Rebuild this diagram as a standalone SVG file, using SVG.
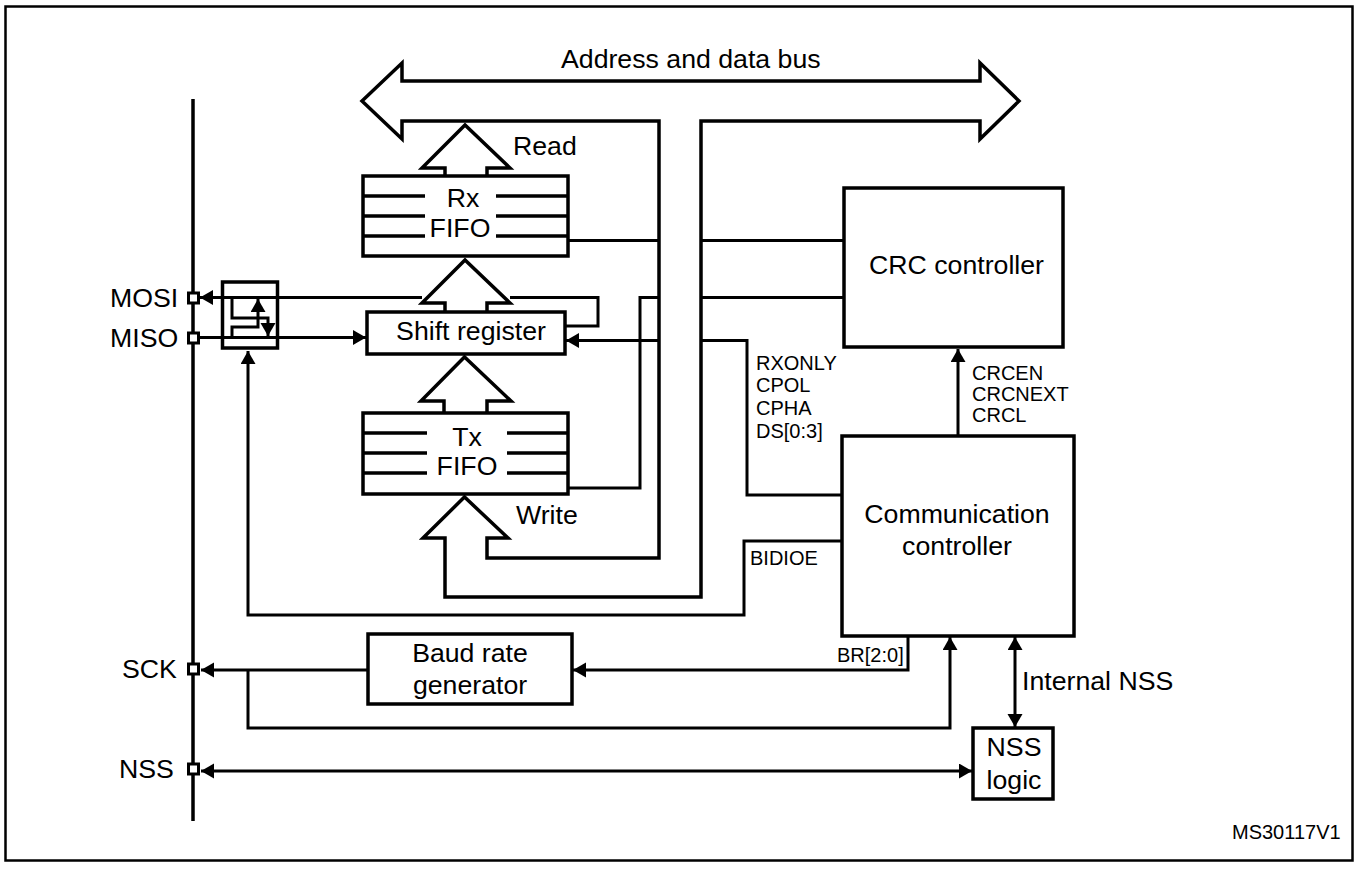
<svg xmlns="http://www.w3.org/2000/svg" width="1360" height="870" viewBox="0 0 1360 870">
<defs>
<marker id="ah" markerUnits="userSpaceOnUse" markerWidth="14" markerHeight="16" refX="13" refY="7.5" orient="auto-start-reverse"><path d="M0 0L13 7.5L0 15Z" fill="#000"/></marker>
</defs>
<style>
text{font-family:"Liberation Sans",Arial,sans-serif;fill:#000}
.l{font-size:26.7px}
.m{font-size:26.7px;text-anchor:middle}
.s{font-size:20px}
.n{fill:#fff;stroke:#000;stroke-width:3.5}
.p{fill:#fff;stroke:#000;stroke-width:3}
.c{fill:none;stroke:#000;stroke-width:3}
.r{fill:none;stroke:#000;stroke-width:3.5}
.a{marker-end:url(#ah)}
.b{marker-start:url(#ah);marker-end:url(#ah)}
.o{fill:#fff;stroke:#000;stroke-width:3.5;stroke-linejoin:miter}
</style>
<rect width="1360" height="870" fill="#fff"/>
<rect id="frame" x="5.500" y="6.500" width="1347" height="854" fill="none" stroke="#000" stroke-width="2.500"/>
<g id="connectors">
<path class="r" d="M193 99V821"/>
<path class="c" d="M568 240.500H658M702 240.500H843M702 297.500H843"/>
<path class="c" d="M568 488H640V297.500H658"/>
<path class="c a" d="M658 340.500H566"/>
<path class="c" d="M702 340.500H747V495H842"/>
<path class="c a" d="M842 541H744V615H248V351"/>
<path class="c a" d="M958 436V349"/>
<path class="c a" d="M908 636V670H573"/>
<path class="c a" d="M368 670H201"/>
<path class="c a" d="M248 670V728H950V637"/>
<path class="c b" d="M1015 637V727"/>
<path class="c b" d="M201 771H972"/>
<path class="c a" d="M422 297.500H200"/>
<path class="c" d="M510 297.500H598V326H565"/>
<path class="c a" d="M200 337.500H366"/>
<path class="c a" d="M232 298V318H268V336"/>
<path class="c a" d="M232 337V327H258V299"/>
</g>
<g id="bus">
<path class="o" d="M362 101L402 63V81H980V63L1019 101L980 139V121H701V597H445V538H423L464.500 497L508 538H487V558H659V121H402V139Z"/>
<text class="l" x="561" y="68">Address and data bus</text>
</g>
<g id="read-arrow">
<path class="o" d="M445 176V168H422L465 125L510 168H487V176"/>
<text class="l" x="513" y="155">Read</text>
</g>
<g id="rx-fifo">
<rect class="n" x="363" y="176" width="205" height="80"/>
<path class="r" d="M363 196H425M363 216H425M363 236H425M496 196H568M496 216H568M496 236H568"/>
<text class="m" x="463" y="207">Rx</text>
<text class="m" x="460" y="237">FIFO</text>
</g>
<g id="shift-arrow">
<path class="o" d="M445 312V303H422L465 260L510 303H487V312"/>
</g>
<g id="shift-register">
<rect class="n" x="367" y="312" width="198" height="42"/>
<text class="m" x="471" y="340">Shift register</text>
</g>
<g id="tx-arrow">
<path class="o" d="M444 413V401H421L464.500 357L511 401H487V413"/>
</g>
<g id="tx-fifo">
<rect class="n" x="363" y="413" width="205" height="81"/>
<path class="r" d="M363 433H427M363 453H427M363 473H427M507 433H568M507 453H568M507 473H568"/>
<text class="m" x="467" y="446">Tx</text>
<text class="m" x="467" y="475">FIFO</text>
<text class="l" x="516" y="524">Write</text>
</g>
<g id="crc-controller">
<rect class="n" x="844" y="188" width="219" height="159"/>
<text class="m" x="956.500" y="274">CRC controller</text>
</g>
<g id="communication-controller">
<rect class="n" x="842" y="436" width="232" height="200"/>
<text class="m" x="957" y="523">Communication</text>
<text class="m" x="957" y="555">controller</text>
</g>
<g id="baud-rate-generator">
<rect class="n" x="368" y="634" width="204" height="70"/>
<text class="m" x="470" y="662">Baud rate</text>
<text class="m" x="470" y="694">generator</text>
</g>
<g id="nss-logic">
<rect class="n" x="973" y="728" width="80" height="71"/>
<text class="m" x="1014" y="756">NSS</text>
<text class="m" x="1014" y="789">logic</text>
</g>
<g id="switch">
<rect class="r" x="222.500" y="282" width="55" height="66"/>
</g>
<g id="pin-mosi"><rect class="p" x="188.500" y="293" width="10" height="10"/><text class="l" x="110" y="307">MOSI</text></g>
<g id="pin-miso"><rect class="p" x="188.500" y="333" width="10" height="10"/><text class="l" x="110" y="347">MISO</text></g>
<g id="pin-sck"><rect class="p" x="188.500" y="664" width="10" height="10"/><text class="l" x="122" y="678">SCK</text></g>
<g id="pin-nss"><rect class="p" x="188.500" y="764" width="10" height="10"/><text class="l" x="119" y="778">NSS</text></g>
<g id="labels">
<text class="s" x="756" y="370">RXONLY</text>
<text class="s" x="756" y="392">CPOL</text>
<text class="s" x="756" y="415">CPHA</text>
<text class="s" x="756" y="438">DS[0:3]</text>
<text class="s" x="972" y="380">CRCEN</text>
<text class="s" x="972" y="401">CRCNEXT</text>
<text class="s" x="972" y="422">CRCL</text>
<text class="s" x="750" y="565">BIDIOE</text>
<text class="s" x="837" y="662">BR[2:0]</text>
<text class="l" x="1022" y="690">Internal NSS</text>
<text class="s" x="1232" y="839">MS30117V1</text>
</g>
</svg>
